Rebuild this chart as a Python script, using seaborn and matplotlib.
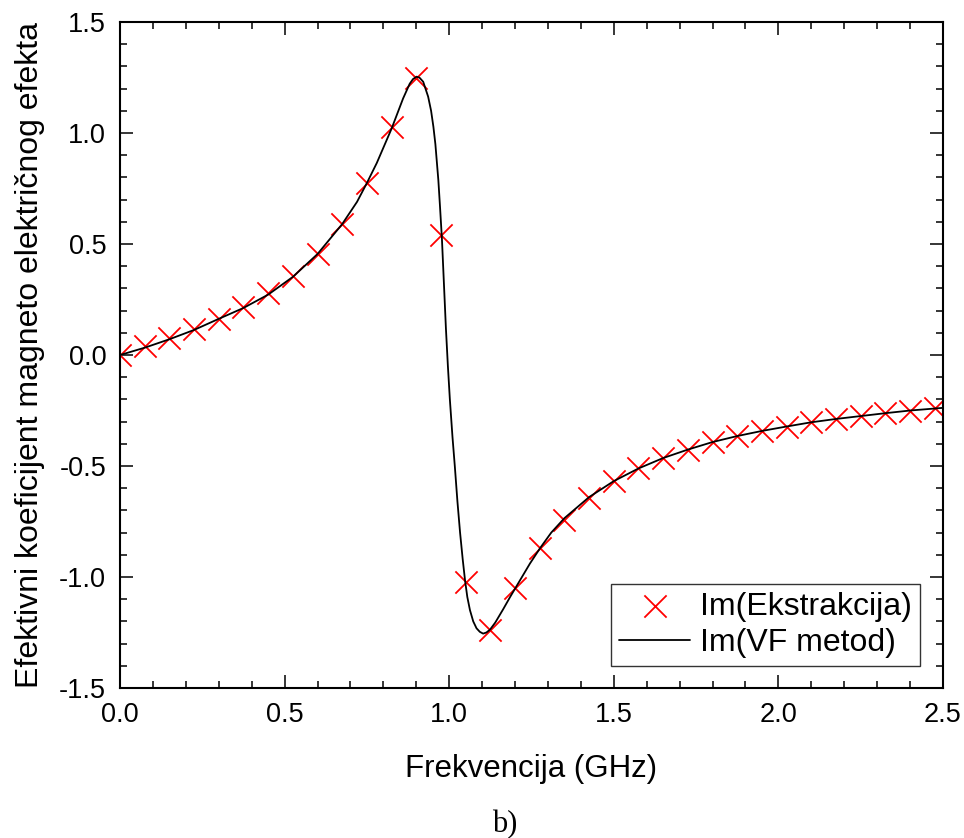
import numpy as np
import pandas as pd
import seaborn as sns
import matplotlib
matplotlib.use("Agg")
import matplotlib.pyplot as plt

# extracted points (red x)
f_ext = [0.0, 0.075, 0.15, 0.225, 0.3, 0.375, 0.45, 0.525, 0.6, 0.675,
         0.75, 0.825, 0.9, 0.975, 1.05, 1.125, 1.2, 1.275, 1.35, 1.425,
         1.5, 1.575, 1.65, 1.725, 1.8, 1.875, 1.95, 2.025, 2.1, 2.175,
         2.25, 2.325, 2.4, 2.475]
im_ext = [0.0, 0.04, 0.075, 0.116, 0.164, 0.215, 0.278, 0.356, 0.455, 0.59,
          0.776, 1.028, 1.25, 0.54, -1.021, -1.239, -1.051, -0.871, -0.743, -0.643,
          -0.568, -0.511, -0.464, -0.427, -0.39, -0.365, -0.342, -0.323, -0.303, -0.288,
          -0.275, -0.263, -0.251, -0.24]

# VF method curve (black line)
f_vf = [0.0, 0.075, 0.15, 0.225, 0.3, 0.375, 0.45, 0.525, 0.6, 0.675,
        0.72, 0.75, 0.78, 0.825, 0.86, 0.88, 0.89, 0.901, 0.91, 0.921,
        0.936, 0.945, 0.952, 0.958, 0.962, 0.967, 0.972, 0.978, 0.984, 0.99,
        0.996, 1.002, 1.01, 1.017, 1.025, 1.033, 1.041, 1.048, 1.055, 1.063,
        1.073, 1.083, 1.093, 1.103, 1.113, 1.124, 1.14, 1.164, 1.185, 1.203,
        1.225, 1.245, 1.276, 1.31, 1.35, 1.425, 1.5, 1.575, 1.65, 1.725,
        1.8, 1.875, 1.95, 2.025, 2.1, 2.175, 2.25, 2.325, 2.4, 2.5]
im_vf = [0.0, 0.033, 0.071, 0.113, 0.163, 0.212, 0.272, 0.352, 0.455, 0.59,
         0.69, 0.775, 0.865, 1.02, 1.156, 1.222, 1.243, 1.254, 1.249, 1.231,
         1.164, 1.1, 1.028, 0.95, 0.878, 0.788, 0.67, 0.52, 0.32, 0.12,
         -0.05, -0.2, -0.37, -0.5, -0.66, -0.8, -0.92, -1.014, -1.09, -1.149,
         -1.2, -1.231, -1.247, -1.255, -1.25, -1.237, -1.205, -1.145, -1.09, -1.045,
         -0.99, -0.94, -0.87, -0.8, -0.735, -0.64, -0.568, -0.511, -0.464, -0.426,
         -0.392, -0.365, -0.342, -0.322, -0.303, -0.288, -0.275, -0.262, -0.25, -0.238]

df_ext = pd.DataFrame({'f': f_ext, 'im': im_ext})
df_vf = pd.DataFrame({'f': f_vf, 'im': im_vf})

sns.set_style('ticks')
plt.rcParams['font.family'] = ['Liberation Sans', 'DejaVu Sans']
plt.rcParams['axes.unicode_minus'] = False
plt.rcParams['axes.linewidth'] = 1.5
plt.rcParams['xtick.direction'] = 'in'
plt.rcParams['ytick.direction'] = 'in'
plt.rcParams['text.color'] = 'black'
plt.rcParams['axes.labelcolor'] = 'black'
plt.rcParams['xtick.color'] = 'black'
plt.rcParams['ytick.color'] = 'black'

fig = plt.figure(figsize=(9.64, 8.38), dpi=100)
ax = fig.add_axes([0.1245, 0.179, 0.8537, 0.7947])

sns.scatterplot(data=df_ext, x='f', y='im', marker='x', color='#ff0000',
                s=256, linewidth=1.3, ax=ax, label='Im(Ekstrakcija)', zorder=2)
sns.lineplot(data=df_vf, x='f', y='im', color='black', linewidth=1.3,
             ax=ax, label='Im(VF metod)', sort=False, zorder=3)

ax.set_xlim(0, 2.5)
ax.set_ylim(-1.5, 1.5)
ax.set_xticks(np.arange(0, 2.51, 0.5))
ax.set_yticks(np.arange(-1.5, 1.51, 0.5))
ax.set_xticks(np.arange(0, 2.51, 0.1), minor=True)
ax.set_yticks(np.arange(-1.5, 1.51, 0.1), minor=True)
ax.tick_params(which='both', top=True, right=True, width=1.1, color='black')
ax.tick_params(which='major', length=9.5, labelsize=19.5, pad=10)
ax.tick_params(which='minor', length=5)
for s in ax.spines.values():
    s.set_color('black')

ax.set_xlabel('Frekvencija (GHz)', fontsize=22.5)
ax.set_ylabel('Efektivni koeficijent magneto električnog efekta', fontsize=23)
ax.xaxis.set_label_coords(0.5, -0.099)
ax.yaxis.set_label_coords(-0.091, 0.5)

leg = ax.legend(loc='lower right', bbox_to_anchor=(0.972, 0.033), borderaxespad=0,
                fontsize=23, handlelength=2.25, handletextpad=0.3, labelspacing=0.2,
                borderpad=0.25, fancybox=False, framealpha=1, edgecolor='#333333')
leg.get_frame().set_linewidth(1.0)

fig.text(505 / 964, 1 - 832 / 838, 'b)', family='Liberation Serif', fontsize=22,
         ha='center', va='baseline')

fig.savefig('out.png', dpi=100)
